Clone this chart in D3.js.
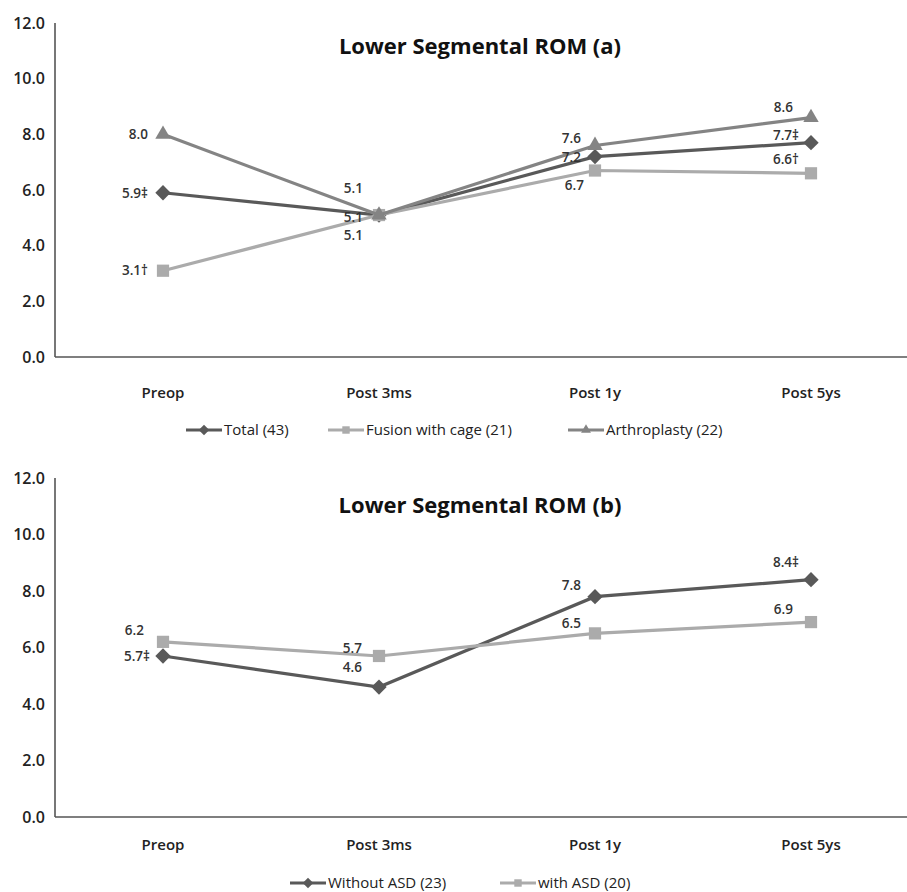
<!DOCTYPE html>
<html>
<head>
<meta charset="utf-8">
<script src="https://cdn.jsdelivr.net/npm/d3@7"></script>
<style>
  body { margin: 0; background: #fff; }
  svg { display: block; font-family: "Open Sans", "Noto Sans", sans-serif; }
</style>
</head>
<body>
<div id="viz"></div>
<script>
const WIDTH = 907, HEIGHT = 892;

// shared categories and y ticks
const categories = ["Preop", "Post 3ms", "Post 1y", "Post 5ys"];
const yTicks = [0, 2, 4, 6, 8, 10, 12];

// panel (a)
const totalVals = [5.9, 5.1, 7.2, 7.7];
const totalLabels = ["5.9\u2021", "5.1", "7.2", "7.7\u2021"];
const fusionVals = [3.1, 5.1, 6.7, 6.6];
const fusionLabels = ["3.1\u2020", "5.1", "6.7", "6.6\u2020"];
const arthroVals = [8.0, 5.1, 7.6, 8.6];
const arthroLabels = ["8.0", "5.1", "7.6", "8.6"];

// panel (b)
const withoutVals = [5.7, 4.6, 7.8, 8.4];
const withoutLabels = ["5.7\u2021", "4.6", "7.8", "8.4\u2021"];
const withVals = [6.2, 5.7, 6.5, 6.9];
const withLabels = ["6.2", "5.7", "6.5", "6.9"];

const COLORS = { dark: "#595959", light: "#ababab", mid: "#848484", text: "#333", axis: "#555" };

// label offsets (dx = end of text relative to marker, dy = vertical shift)
const panels = [
  {
    title: "Lower Segmental ROM (a)",
    top: 23, bottom: 357,
    titleY: 46, xLabelY: 393, legendY: 430,
    series: [
      { name: "Total (43)", values: totalVals, labels: totalLabels, color: COLORS.dark, shape: "diamond",
        offs: [[-15, 0], [-16, 2], [-14, 1], [-12, -7]], legendX: 186 },
      { name: "Fusion with cage (21)", values: fusionVals, labels: fusionLabels, color: COLORS.light, shape: "square",
        offs: [[-15, 0], [-16, 20], [-11, 15], [-12, -14]], legendX: 328 },
      { name: "Arthroplasty (22)", values: arthroVals, labels: arthroLabels, color: COLORS.mid, shape: "triangle",
        offs: [[-15, 0], [-16, -27], [-14, -7], [-18, -10]], legendX: 568 }
    ]
  },
  {
    title: "Lower Segmental ROM (b)",
    top: 478, bottom: 817,
    titleY: 505, xLabelY: 845, legendY: 883,
    series: [
      { name: "Without ASD (23)", values: withoutVals, labels: withoutLabels, color: COLORS.dark, shape: "diamond",
        offs: [[-13, 0], [-17, -20], [-14, -11], [-12, -17]], legendX: 290 },
      { name: "with ASD (20)", values: withVals, labels: withLabels, color: COLORS.light, shape: "square",
        offs: [[-19, -12], [-17, -8], [-14, -10], [-18, -13]], legendX: 500 }
    ]
  }
];

const svg = d3.select("#viz").append("svg")
  .attr("width", WIDTH)
  .attr("height", HEIGHT);

const x = d3.scaleBand()
  .domain(categories)
  .range([55, 919]);
const cx = c => x(c) + x.bandwidth() / 2;

const shapeType = { diamond: d3.symbolDiamond2, square: d3.symbolSquare2, triangle: d3.symbolTriangle2 };
const shapeSize = { diamond: 150, square: 190, triangle: 170 };

panels.forEach(p => {
  const y = d3.scaleLinear().domain([0, 12]).range([p.bottom, p.top]);
  const g = svg.append("g");

  // y tick labels
  g.selectAll(".ytick")
    .data(yTicks)
    .join("text")
    .attr("x", 45)
    .attr("y", d => y(d))
    .attr("dy", "0.35em")
    .attr("text-anchor", "end")
    .style("font-size", "16px")
    .style("font-weight", 600)
    .attr("fill", "#222")
    .text(d => d.toFixed(1));

  // axes lines
  g.append("line")
    .attr("x1", 55).attr("x2", 55)
    .attr("y1", y(12)).attr("y2", y(0))
    .attr("stroke", COLORS.axis).attr("stroke-width", 1.6);
  g.append("line")
    .attr("x1", 55).attr("x2", WIDTH)
    .attr("y1", y(0)).attr("y2", y(0))
    .attr("stroke", COLORS.axis).attr("stroke-width", 1.6);

  // category labels
  g.selectAll(".xlab")
    .data(categories)
    .join("text")
    .attr("x", d => cx(d))
    .attr("y", p.xLabelY)
    .attr("dy", "0.35em")
    .attr("text-anchor", "middle")
    .style("font-size", "15px")
    .style("font-weight", 600)
    .attr("fill", "#222")
    .text(d => d);

  // title
  g.append("text")
    .attr("x", 480)
    .attr("y", p.titleY)
    .attr("dy", "0.35em")
    .attr("text-anchor", "middle")
    .style("font-size", "22px")
    .style("font-weight", "bold")
    .attr("fill", "#111")
    .text(p.title);

  const line = d3.line()
    .x((d, i) => cx(categories[i]))
    .y(d => y(d));

  p.series.forEach(s => {
    g.append("path")
      .datum(s.values)
      .attr("d", line)
      .attr("fill", "none")
      .attr("stroke", s.color)
      .attr("stroke-width", 3.2);

    g.selectAll(null)
      .data(s.values)
      .join("path")
      .attr("d", d3.symbol().type(shapeType[s.shape]).size(shapeSize[s.shape]))
      .attr("transform", (d, i) => `translate(${cx(categories[i])},${y(d)})`)
      .attr("fill", s.color);
  });

  // data labels drawn last so they sit on top
  p.series.forEach(s => {
    g.selectAll(null)
      .data(s.values)
      .join("text")
      .attr("x", (d, i) => cx(categories[i]) + s.offs[i][0])
      .attr("y", (d, i) => y(d) + s.offs[i][1])
      .attr("dy", "0.35em")
      .attr("text-anchor", "end")
      .style("font-size", "13.5px")
      .style("font-weight", 600)
      .attr("fill", COLORS.text)
      .text((d, i) => s.labels[i]);
  });

  // legend
  p.series.forEach(s => {
    const lg = g.append("g").attr("transform", `translate(${s.legendX},${p.legendY})`);
    lg.append("line")
      .attr("x1", 0).attr("x2", 36)
      .attr("stroke", s.color).attr("stroke-width", 3.2);
    lg.append("path")
      .attr("d", d3.symbol().type(shapeType[s.shape]).size(70))
      .attr("transform", "translate(18,0)")
      .attr("fill", s.color);
    lg.append("text")
      .attr("x", 38)
      .attr("dy", "0.35em")
      .style("font-size", "15px")
      .attr("fill", "#222")
      .text(s.name);
  });
});
</script>
</body>
</html>
